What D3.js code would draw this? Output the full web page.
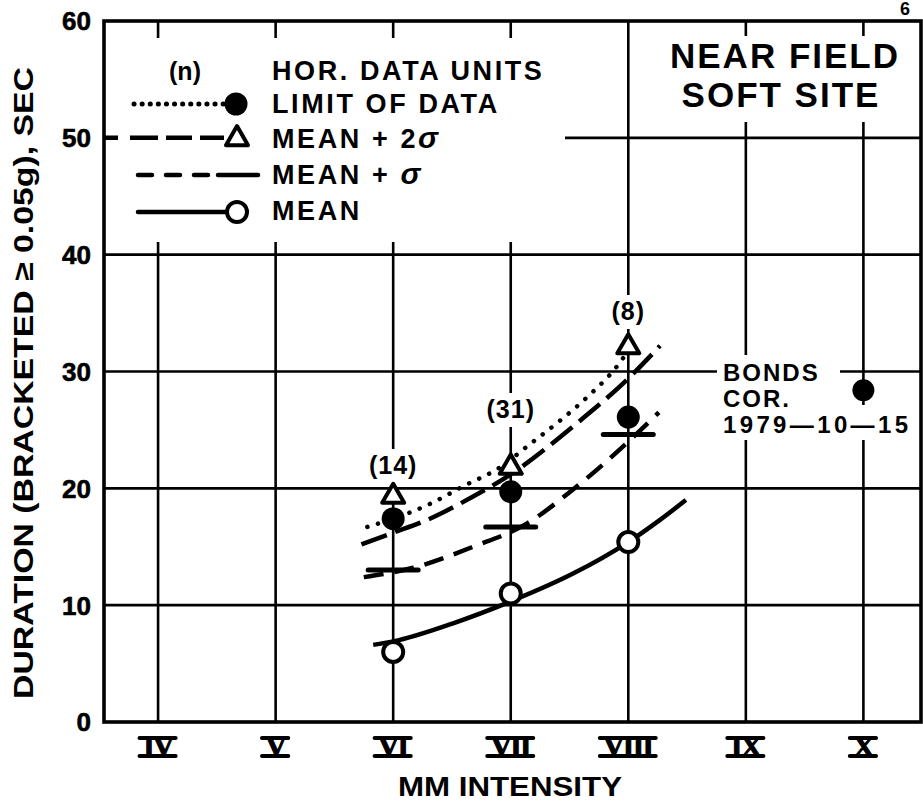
<!DOCTYPE html>
<html lang="en">
<head>
<meta charset="UTF-8">
<title>Near field soft site duration</title>
<style>
  body { margin: 0; background: #fff; }
  svg { display: block; }
  text { font-family: "Liberation Sans", Arial, sans-serif; font-weight: bold; fill: #000; }
  .grid { stroke: #000; stroke-width: 2.6; }
  .frame { fill: none; stroke: #000; stroke-width: 3.6; }
  .mask { fill: #fff; stroke: none; }
  .curve { fill: none; stroke: #000; stroke-width: 4.5; }
</style>
</head>
<body>
<script src="https://d3js.org/d3.v7.min.js"></script>
<script>
// ---- data ----
const intensities = [6, 7, 8];
const counts = ["(14)", "(31)", "(8)"];
const limitOfData = [17.4, 19.7, 26.1];
const meanPlus2s = [19.3, 21.8, 32.1];
const meanPlus1s = [13.0, 16.7, 24.6];
const meanValues = [6.0, 11.0, 15.4];
const bondsPoint = [10, 28.4];

const xTicks = [4, 5, 6, 7, 8, 9, 10];
const xTickLabels = ["IV", "V", "VI", "VII", "VIII", "IX", "X"];
const yTicks = [0, 10, 20, 30, 40, 50, 60];

// fitted curves (intensity, seconds)
const limitCurve = [[5.78, 16.7], [6.0, 17.4], [6.32, 18.7], [6.6, 20.2], [6.91, 21.8], [7.14, 23.6], [7.42, 25.8], [7.65, 27.8], [7.9, 30.4], [7.96, 31.2]];
const mean2sCurve = [[5.73, 15.2], [6.0, 16.2], [6.29, 17.3], [6.68, 19.3], [6.97, 21.0], [7.53, 25.3], [8.02, 29.6], [8.27, 32.2]];
const mean1sCurve = [[5.75, 12.4], [6.17, 13.2], [6.68, 15.0], [7.14, 17.0], [7.53, 19.9], [7.99, 23.9], [8.26, 26.5]];
const meanCurve = [[5.83, 6.6], [6.0, 6.9], [6.51, 8.45], [7.02, 10.4], [7.53, 12.7], [8.0, 15.4], [8.27, 17.3], [8.49, 19.0]];

const width = 923, height = 812;

const x = d3.scaleLinear().domain([3.54, 10.49]).range([104, 921]);
const y = d3.scaleLinear().domain([0, 60]).range([722, 21]);

const svg = d3.select("body").append("svg")
    .attr("width", width)
    .attr("height", height);

// grid
svg.append("g").selectAll("line")
    .data(yTicks.slice(1, -1))
    .enter().append("line")
    .attr("class", "grid")
    .attr("x1", x.range()[0]).attr("x2", x.range()[1])
    .attr("y1", d => y(d)).attr("y2", d => y(d));

svg.append("g").selectAll("line")
    .data(xTicks)
    .enter().append("line")
    .attr("class", "grid")
    .attr("x1", d => x(d)).attr("x2", d => x(d))
    .attr("y1", y(0)).attr("y2", y(60));

// white masks where the grid is broken for text
const masks = [
    [118, 38, 447, 204],    // legend
    [640, 36, 270, 86],     // title box
    [717, 355, 123, 85],    // BONDS text
    [840, 405, 75, 35]
];
svg.append("g").selectAll("rect")
    .data(masks)
    .enter().append("rect")
    .attr("class", "mask")
    .attr("x", d => d[0]).attr("y", d => d[1])
    .attr("width", d => d[2]).attr("height", d => d[3]);

// frame
svg.append("rect")
    .attr("class", "frame")
    .attr("x", x.range()[0]).attr("y", y(60))
    .attr("width", x.range()[1] - x.range()[0])
    .attr("height", y(0) - y(60));

// y tick labels
svg.append("g").selectAll("text")
    .data(yTicks)
    .enter().append("text")
    .attr("x", 91)
    .attr("y", d => y(d))
    .attr("dy", "0.36em")
    .attr("text-anchor", "end")
    .style("font-size", "26px")
    .style("stroke", "#000").style("stroke-width", 0.6)
    .text(d => d);

// x tick labels (roman numerals with bars)
const xl = svg.append("g").selectAll("g")
    .data(xTicks)
    .enter().append("g")
    .attr("transform", d => `translate(${x(d)},0)`);
xl.append("text")
    .attr("y", 756)
    .attr("text-anchor", "middle")
    .style("font-family", "'Liberation Serif', 'DejaVu Serif', serif")
    .style("font-size", "28px")
    .style("letter-spacing", "-1px")
    .style("stroke", "#000").style("stroke-width", 1.2)
    .text((d, i) => xTickLabels[i]);
xl.each(function() {
    const g = d3.select(this);
    const w = g.select("text").node().getComputedTextLength();
    [738, 756].forEach(yy => {
        g.append("line")
            .attr("x1", -w / 2 - 4).attr("x2", w / 2 + 3)
            .attr("y1", yy).attr("y2", yy)
            .attr("stroke", "#000").attr("stroke-width", 4)
            .attr("stroke-linecap", "round");
    });
});

// axis titles
svg.append("text")
    .attr("x", 510).attr("y", 796)
    .attr("text-anchor", "middle")
    .attr("textLength", 224).attr("lengthAdjust", "spacingAndGlyphs")
    .style("font-size", "28px")
    .text("MM INTENSITY");

svg.append("text")
    .attr("transform", "translate(33,383) rotate(-90)")
    .attr("text-anchor", "middle")
    .attr("textLength", 632).attr("lengthAdjust", "spacingAndGlyphs")
    .style("font-size", "28px")
    .text("DURATION (BRACKETED \u2265 0.05g), SEC");

// title box text
svg.append("text")
    .attr("x", 785).attr("y", 68)
    .attr("text-anchor", "middle")
    .style("font-size", "35px")
    .style("letter-spacing", "2px")
    .text("NEAR FIELD");
svg.append("text")
    .attr("x", 781).attr("y", 107)
    .attr("text-anchor", "middle")
    .style("font-size", "35px")
    .style("letter-spacing", "2px")
    .text("SOFT SITE");
svg.append("text")
    .attr("x", 905).attr("y", 15)
    .attr("text-anchor", "middle")
    .style("font-size", "18px")
    .text("6");

// count label masks and labels
const countY = [474, 418, 320];
svg.append("g").selectAll("rect")
    .data(intensities)
    .enter().append("rect")
    .attr("class", "mask")
    .attr("x", d => x(d) - 27)
    .attr("y", (d, i) => countY[i] - 25)
    .attr("width", 54).attr("height", 34);
svg.append("g").selectAll("text")
    .data(intensities)
    .enter().append("text")
    .attr("x", d => x(d))
    .attr("y", (d, i) => countY[i])
    .attr("text-anchor", "middle")
    .style("font-size", "25px")
    .style("letter-spacing", "1px")
    .text((d, i) => counts[i]);

// BONDS label
["BONDS", "COR.", "1979\u201410\u201415"].forEach((t, i) => {
    const tx = svg.append("text")
        .attr("x", 723).attr("y", 381 + i * 26)
        .style("font-size", "24px")
        .style("letter-spacing", "2px")
        .text(t);
    if (i === 2) tx.attr("textLength", 187).attr("lengthAdjust", "spacing");
});

// curves
const line = d3.line()
    .x(d => x(d[0]))
    .y(d => y(d[1]))
    .curve(d3.curveMonotoneX);

svg.append("path").datum(meanCurve).attr("class", "curve").attr("d", line);
svg.append("path").datum(mean1sCurve).attr("class", "curve")
    .attr("stroke-dasharray", "20,11").attr("d", line);
svg.append("path").datum(mean2sCurve).attr("class", "curve")
    .attr("stroke-dasharray", "27,9").attr("d", line);
svg.append("path").datum(limitCurve).attr("class", "curve")
    .attr("stroke-width", 5.5).attr("stroke-linecap", "round")
    .attr("stroke-dasharray", "0.1,11").attr("d", line);

// markers
const tri = d3.symbol().type(d3.symbolTriangle).size(210);

svg.append("g").selectAll("line")
    .data(intensities)
    .enter().append("line")
    .attr("x1", d => x(d) - 25).attr("x2", d => x(d) + 25)
    .attr("y1", (d, i) => y(meanPlus1s[i])).attr("y2", (d, i) => y(meanPlus1s[i]))
    .attr("stroke", "#000").attr("stroke-width", 5).attr("stroke-linecap", "round");

svg.append("g").selectAll("circle")
    .data(intensities)
    .enter().append("circle")
    .attr("cx", d => x(d))
    .attr("cy", (d, i) => y(limitOfData[i]))
    .attr("r", 11.5)
    .attr("fill", "#000");

svg.append("circle")
    .attr("cx", x(bondsPoint[0])).attr("cy", y(bondsPoint[1]))
    .attr("r", 11).attr("fill", "#000");

svg.append("g").selectAll("path")
    .data(intensities)
    .enter().append("path")
    .attr("d", tri)
    .attr("transform", (d, i) => `translate(${x(d)},${y(meanPlus2s[i])})`)
    .attr("fill", "#fff").attr("stroke", "#000").attr("stroke-width", 4)
    .attr("stroke-linejoin", "round");

svg.append("g").selectAll("circle")
    .data(intensities)
    .enter().append("circle")
    .attr("cx", d => x(d))
    .attr("cy", (d, i) => y(meanValues[i]))
    .attr("r", 10)
    .attr("fill", "#fff").attr("stroke", "#000").attr("stroke-width", 4);

// legend
const leg = svg.append("g");
leg.append("text").attr("x", 185).attr("y", 80)
    .attr("text-anchor", "middle").style("font-size", "25px").text("(n)");

const legRows = [
    { label: "HOR. DATA UNITS", sigma: "", y: 80 },
    { label: "LIMIT OF DATA", sigma: "", y: 113 },
    { label: "MEAN + 2", sigma: "\u03c3", y: 148 },
    { label: "MEAN + ", sigma: "\u03c3", y: 184 },
    { label: "MEAN", sigma: "", y: 220 }
];
const lt = leg.selectAll("text.lab")
    .data(legRows)
    .enter().append("text")
    .attr("class", "lab")
    .attr("x", 272).attr("y", d => d.y)
    .style("font-size", "27px")
    .style("letter-spacing", "2.6px")
    .text(d => d.label);
lt.append("tspan")
    .style("font-style", "italic")
    .style("font-size", "30px")
    .text(d => d.sigma);

// limit of data
leg.append("line").attr("x1", 134).attr("x2", 226).attr("y1", 104).attr("y2", 104)
    .attr("stroke", "#000").attr("stroke-width", 5).attr("stroke-linecap", "round")
    .attr("stroke-dasharray", "0.1,8");
leg.append("circle").attr("cx", 236).attr("cy", 104).attr("r", 11.5).attr("fill", "#000");
// mean + 2 sigma
leg.append("line").attr("x1", 104).attr("x2", 224).attr("y1", y(50)).attr("y2", y(50))
    .attr("stroke", "#000").attr("stroke-width", 4.5)
    .attr("stroke-dasharray", "14,12,28,8,26,8,40");
leg.append("path").attr("d", tri)
    .attr("transform", `translate(237,${y(50) + 1})`)
    .attr("fill", "#fff").attr("stroke", "#000").attr("stroke-width", 4)
    .attr("stroke-linejoin", "round");
// mean + sigma
leg.append("line").attr("x1", 138).attr("x2", 258).attr("y1", 175).attr("y2", 175)
    .attr("stroke", "#000").attr("stroke-width", 4.5).attr("stroke-linecap", "round")
    .attr("stroke-dasharray", "14,14,14,14,14,10,60");
// mean
leg.append("line").attr("x1", 138).attr("x2", 226).attr("y1", 212).attr("y2", 212)
    .attr("stroke", "#000").attr("stroke-width", 4.5).attr("stroke-linecap", "round");
leg.append("circle").attr("cx", 237).attr("cy", 212).attr("r", 10)
    .attr("fill", "#fff").attr("stroke", "#000").attr("stroke-width", 4);
</script>
</body>
</html>
